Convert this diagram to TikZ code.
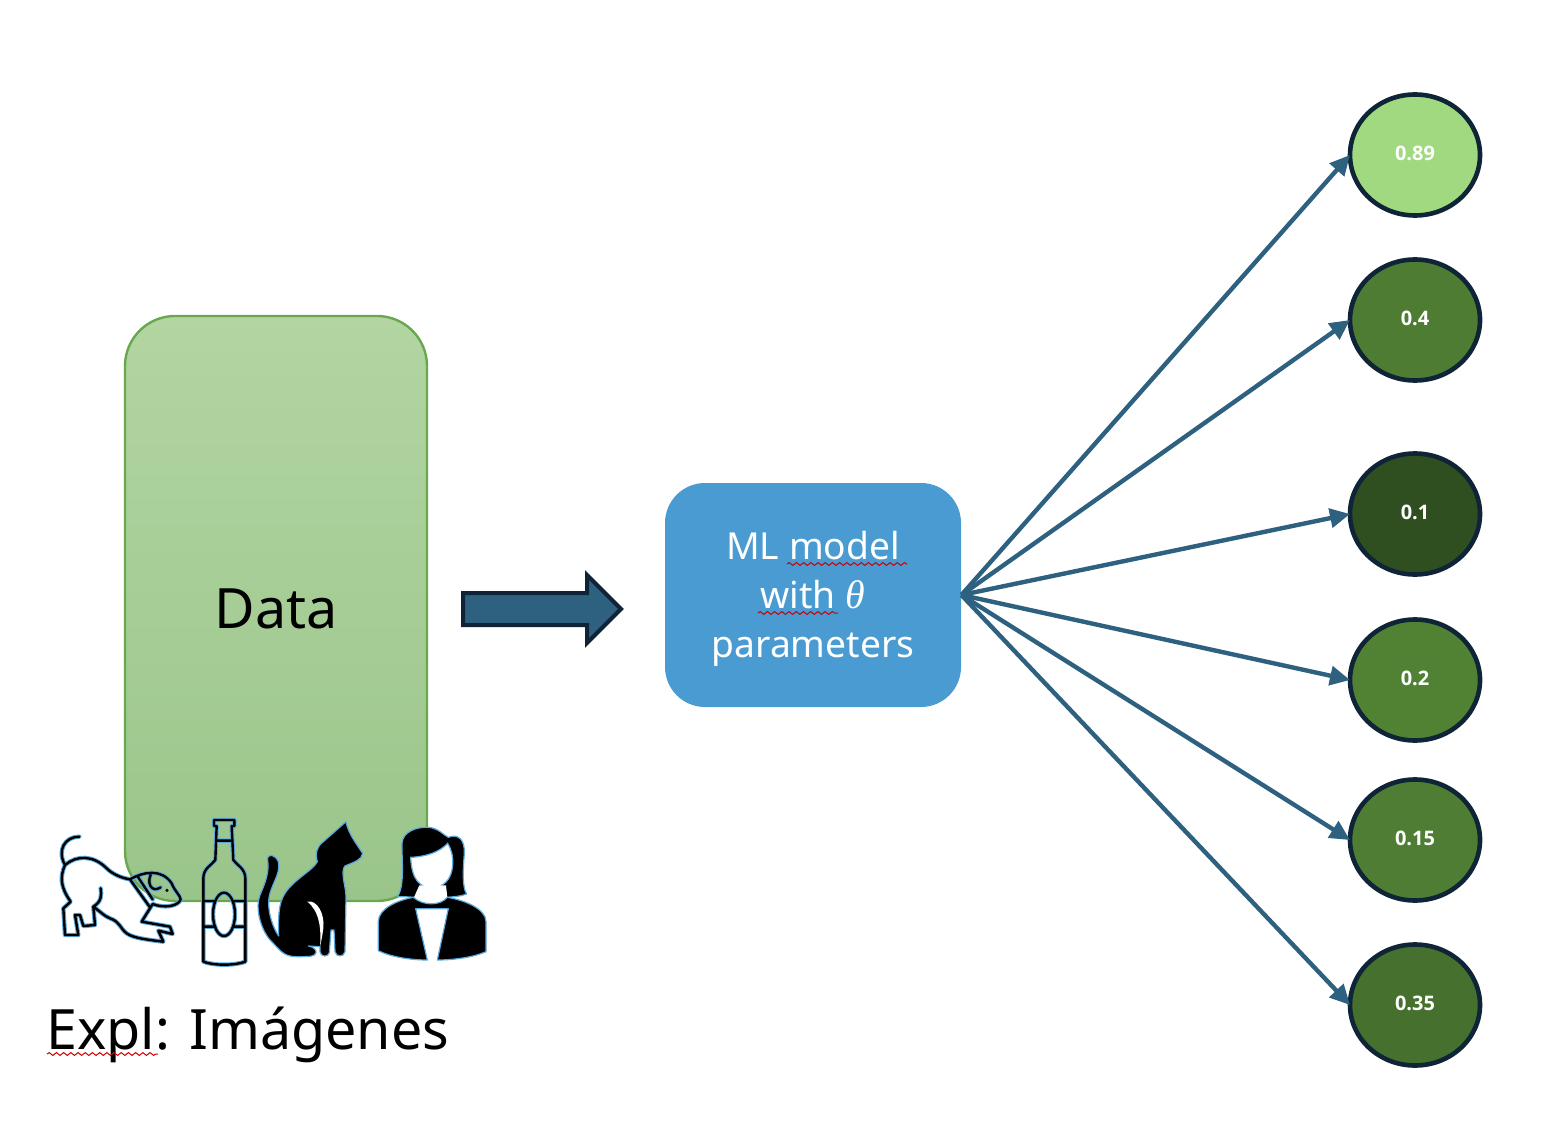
\documentclass[tikz,border=0pt]{standalone}
\usepackage{amsmath}
\usepackage{xcolor}
\usepackage{fontspec}
\setmainfont{Noto Sans}
\newfontfamily\scorefont{Open Sans}
\newfontfamily\thetafont{Liberation Serif}
\usetikzlibrary{shapes.geometric,shapes.arrows,arrows.meta,decorations.pathmorphing}
\definecolor{linkblue}{HTML}{2E6080}
\definecolor{inkblue}{HTML}{0F2537}
\definecolor{modelblue}{HTML}{4A9BD1}
\definecolor{dataedge}{HTML}{6AA84F}
\definecolor{iconblue}{HTML}{5BA9DC}
\tikzset{
    databox/.style = {draw = dataedge, line width = 1.2pt, rectangle, rounded corners = 25pt, minimum width = 151pt, minimum height = 292.5pt, top color = {rgb,255:red,178;green,213;blue,162}, bottom color = {rgb,255:red,154;green,197;blue,138}, font = \fontsize{27.8}{34}\selectfont},
    modelbox/.style = {fill = modelblue, rectangle, rounded corners = 20pt, minimum width = 148pt, minimum height = 112pt},
    modeltext/.style = {text = white, align = center, inner sep = 0pt, font = \fontsize{18.6}{24.5}\selectfont},
    flowarrow/.style = {draw = inkblue, fill = linkblue, line width = 2pt, single arrow, minimum height = 79pt, minimum width = 32pt, single arrow head extend = 9pt, inner ysep = 7pt, inner xsep = 0pt},
    score/.style = {draw = inkblue, line width = 2.3pt, ellipse, minimum width = 65pt, minimum height = 60.5pt, outer sep = 0pt, text = white, text depth = 1.5pt, inner sep = 0pt, font = \scorefont\fontsize{10}{11}\selectfont\bfseries},
    link/.style = {draw = linkblue, line width = 2.2pt, -{Triangle[length = 10pt, width = 9.5pt]}},
    squiggle/.style = {draw = red!80!black, line width = 0.5pt, decorate, decoration = {snake, segment length = 3.6pt, amplitude = 0.7pt}},
    lineicon/.style = {draw = iconblue, double = black, double distance = 1.2pt, line width = 0.5pt, line join = round, line cap = round},
    solidicon/.style = {draw = iconblue, line width = 0.6pt, fill = black, line join = round}
}
\begin{document}
\begin{tikzpicture}[x = 0.5pt, y = -0.5pt]
    \useasboundingbox (0,0) rectangle (1546,1144);
    \node[databox] (data) at (276,608.5) {Data};
    \node[flowarrow] (flow) at (534,609) {};
    \node[modelbox] (model) at (813,595) {};
    \node[modeltext] (modeltext) at (813,599) {ML model\\with {\thetafont\itshape\fontsize{20}{24.5}\selectfont θ}\\parameters};
    \node[score, fill = {rgb,255:red,160;green,217;blue,127}] (p1) at (1415,155) {0.89};
    \node[score, fill = {rgb,255:red,78;green,124;blue,51}] (p2) at (1415,320) {0.4};
    \node[score, fill = {rgb,255:red,48;green,79;blue,33}] (p3) at (1415,514) {0.1};
    \node[score, fill = {rgb,255:red,81;green,130;blue,52}] (p4) at (1415,680) {0.2};
    \node[score, fill = {rgb,255:red,79;green,125;blue,51}] (p5) at (1415,840) {0.15};
    \node[score, fill = {rgb,255:red,69;green,112;blue,46}] (p6) at (1415,1005) {0.35};
    \foreach \p in {p1, p2, p3, p4, p5, p6}
        \draw[link] (model.east) -- (\p.west);
    \node[anchor = base west, inner sep = 0pt, font = \fontsize{27.8}{34}\selectfont] (caption) at (46,1049) {Expl: Imágenes};
    \draw[squiggle] (47,1054) -- (158,1054);
    \draw[squiggle] (787,564) -- (907,564);
    \draw[squiggle] (758,613) -- (838,613);
    \begin{scope}[shift = {(30,800)}, scale = 1/3]
        % dog
        \draw[lineicon] (148,110) .. controls (105,110) and (80,150) .. (105,195) .. controls (140,165) and (190,165) .. (230,205) .. controls (250,225) and (280,235) .. (300,238) .. controls (340,215) and (395,205) .. (425,250) .. controls (435,275) and (450,285) .. (452,298) .. controls (445,320) and (400,325) .. (368,312) -- (335,365) -- (420,380) -- (428,402) -- (385,392) -- (400,425) .. controls (360,420) and (310,415) .. (290,400) .. controls (270,385) and (270,365) .. (240,355) .. controls (225,350) and (205,330) .. (190,320) -- (195,375) -- (160,378) -- (150,345) -- (135,345) -- (145,405) -- (105,405) -- (100,325) -- (122,305) .. controls (90,260) and (90,230) .. (105,195)
            (190,320) .. controls (215,305) and (215,285) .. (212,265)
            (300,238) -- (360,322)
            (322,228) -- (368,298)
            (362,225) .. controls (350,250) and (365,280) .. (392,262);
        \fill (411,271) circle[radius = 5];
        % bottle
        \draw[lineicon] (560,78) -- (552,78) -- (552,60) -- (613,60) -- (613,78) -- (605,78)
            (560,78) -- (556,180) .. controls (545,195) and (520,205) .. (520,235) -- (520,485) .. controls (550,497) and (615,497) .. (646,485) -- (646,235) .. controls (646,205) and (620,195) .. (610,180) -- (605,78)
            (558,122) -- (607,122)
            (520,303) -- (551,303) (614,303) -- (646,303) (520,380) -- (556,380) (610,380) -- (646,380)
            (582,343) ellipse[x radius = 33, y radius = 65];
        % cat
        \draw[solidicon] (712,175) .. controls (715,162) and (735,162) .. (745,185) .. controls (755,225) and (715,260) .. (716,310) .. controls (716,345) and (730,385) .. (746,408) .. controls (745,350) and (745,310) .. (765,280) .. controls (790,240) and (850,210) .. (862,185) .. controls (855,160) and (860,140) .. (880,125) -- (948,65) .. controls (955,100) and (975,125) .. (998,160) .. controls (995,180) and (975,185) .. (945,198) .. controls (930,215) and (948,260) .. (948,290) -- (945,455) .. controls (942,472) and (918,472) .. (915,455) -- (912,390) -- (903,390) -- (898,458) .. controls (895,472) and (872,472) .. (870,455) -- (870,440) -- (835,438) .. controls (850,440) and (860,450) .. (858,458) .. controls (855,470) and (840,470) .. (800,470) .. controls (760,470) and (750,450) .. (725,425) .. controls (690,390) and (675,320) .. (690,285) .. controls (705,250) and (720,215) .. (712,175) -- cycle;
        \fill[white] (832,305) .. controls (860,298) and (885,340) .. (880,385) .. controls (878,400) and (875,420) .. (870,440) .. controls (874,390) and (870,335) .. (832,305) -- cycle;
        % person
        \draw[solidicon] (1116,130) .. controls (1118,95) and (1160,80) .. (1195,82) .. controls (1225,84) and (1240,105) .. (1255,112) .. controls (1285,100) and (1305,120) .. (1303,160) .. controls (1300,200) and (1295,260) .. (1310,282) .. controls (1290,290) and (1270,290) .. (1250,292) -- (1150,292) .. controls (1135,290) and (1115,290) .. (1102,290) .. controls (1125,260) and (1115,180) .. (1116,130) -- cycle;
        \draw[draw = iconblue, line width = 0.6pt, fill = white] (1142,172) .. controls (1190,170) and (1230,155) .. (1253,130) .. controls (1265,150) and (1270,170) .. (1268,195) .. controls (1265,240) and (1240,262) .. (1205,264) .. controls (1170,262) and (1145,240) .. (1142,172) -- cycle;
        \fill[white] (1168,256) -- (1248,256) -- (1252,292) .. controls (1230,312) and (1180,312) .. (1152,292) -- cycle;
        \draw[solidicon] (1150,292) .. controls (1180,318) and (1230,318) .. (1252,292) .. controls (1300,300) and (1368,325) .. (1368,365) -- (1368,455) .. controls (1330,472) and (1270,480) .. (1222,480) -- (1255,326) -- (1157,326) -- (1192,480) .. controls (1140,480) and (1080,470) .. (1045,452) -- (1045,365) .. controls (1045,325) and (1105,300) .. (1150,292) -- cycle;
    \end{scope}
\end{tikzpicture}
\end{document}
